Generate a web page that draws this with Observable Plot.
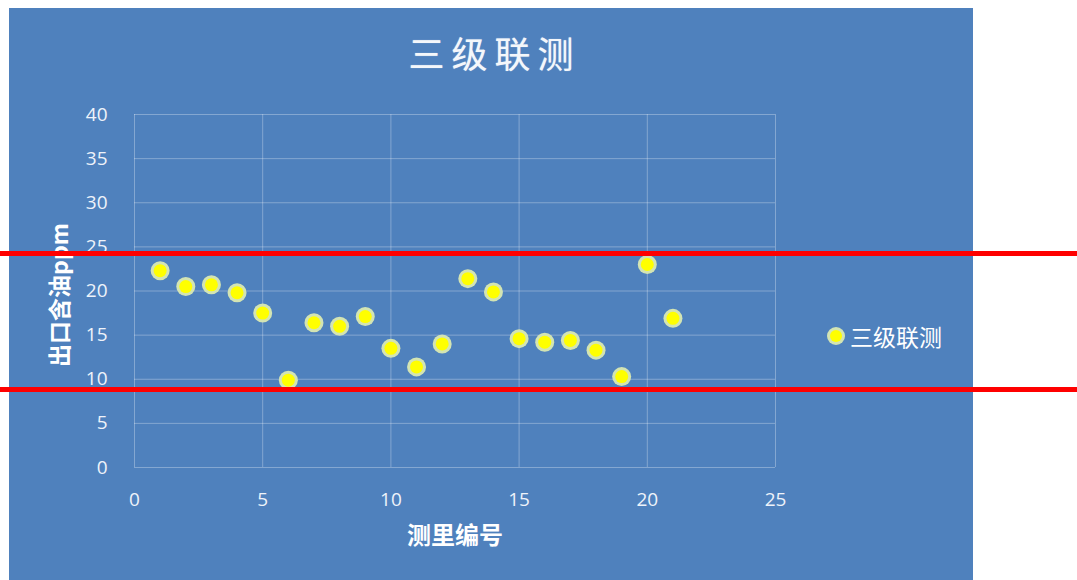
<!DOCTYPE html>
<html>
<head>
<meta charset="utf-8">
<script src="https://cdn.jsdelivr.net/npm/d3@7"></script>
<script src="https://cdn.jsdelivr.net/npm/@observablehq/plot@0.6"></script>
<style>
  html, body { margin: 0; padding: 0; background: #ffffff; }
  #stage { position: relative; width: 1077px; height: 580px; overflow: hidden; }
  #panel { position: absolute; left: 9px; top: 8px; width: 964px; height: 572px; background: #4f81bd; }
  #title {
    position: absolute; left: 9px; top: 28px; width: 964px; text-align: center;
    font-family: "Noto Sans CJK SC", sans-serif; font-size: 36px; line-height: 48px; color: #f4f7fb;
    letter-spacing: 7px; padding-left: 7px; box-sizing: border-box;
    text-shadow: 0 0 1px rgba(255,255,255,0.6);
  }
  #legend {
    position: absolute; left: 830px; top: 320px; height: 32px; display: flex; align-items: center;
    font-family: "Noto Sans CJK SC", sans-serif; font-size: 23px; color: #ffffff;
  }
  #legend .sw {
    width: 12px; height: 12px; border-radius: 50%; background: #ffff00;
    box-shadow: 0 0 0 3px #d3e4b3; margin-right: 8px;
  }
  #chart { position: absolute; left: 0; top: 0; }
</style>
</head>
<body>
<div id="stage">
  <div id="panel"></div>
  <div id="title">三级联测</div>
  <div id="legend"><span class="sw"></span><span>三级联测</span></div>
  <div id="chart"></div>
</div>
<script>
// Measurement point numbers and outlet oil content (ppm)
const pointIds = [1, 2, 3, 4, 5, 6, 7, 8, 9, 10, 11, 12, 13, 14, 15, 16, 17, 18, 19, 20, 21];
const oilPpm = [22.3, 20.5, 20.7, 19.8, 17.5, 9.9, 16.4, 16.0, 17.1, 13.5, 11.4, 14.0, 21.4, 19.9, 14.6, 14.2, 14.4, 13.3, 10.3, 23.0, 16.9];

// Control limits drawn as red horizontal lines
const limits = [24.25, 8.85];

// Axis ticks and labels
const xTicks = [0, 5, 10, 15, 20, 25];
const yTicks = [0, 5, 10, 15, 20, 25, 30, 35, 40];
const xLabel = "测里编号";
const yLabel = "出口含油ppm";

const rows = pointIds.map((id, i) => ({id, ppm: oilPpm[i]}));

const tickFont = "'Open Sans', 'Noto Sans', sans-serif";
const labelFont = "'Noto Sans CJK SC', sans-serif";

const chart = Plot.plot({
  width: 1077,
  height: 580,
  marginLeft: 134,
  marginRight: 302,
  marginTop: 114,
  marginBottom: 113,
  style: {background: "transparent", color: "#eef3fa", overflow: "visible"},
  x: {domain: [0, 25]},
  y: {domain: [0, 40]},
  marks: [
    Plot.gridX(xTicks, {stroke: "#ffffff", strokeOpacity: 0.3, strokeWidth: 1}),
    Plot.gridY(yTicks, {stroke: "#ffffff", strokeOpacity: 0.3, strokeWidth: 1}),
    Plot.axisX(xTicks, {tickSize: 0, tickPadding: 25, fontSize: 19, fontFamily: tickFont, label: null, fill: "#eef3fa"}),
    Plot.axisY(yTicks, {tickSize: 0, tickPadding: 27, fontSize: 19, fontFamily: tickFont, label: null, fill: "#eef3fa"}),
    Plot.text([xLabel], {frameAnchor: "bottom", dy: 76, fontSize: 24, fontWeight: "bold", fontFamily: labelFont, fill: "#ffffff"}),
    Plot.text([yLabel], {frameAnchor: "left", dx: -74, dy: 4, rotate: -90, textAnchor: "middle", fontSize: 23, fontWeight: "bold", fontFamily: labelFont, fill: "#ffffff"}),
    // marker halo, then the yellow core
    Plot.dot(rows, {x: "id", y: "ppm", r: 9.5, fill: "#d3e4b3", stroke: "none"}),
    Plot.dot(rows, {x: "id", y: "ppm", r: 6.5, fill: "#ffff00", stroke: "none"}),
    Plot.ruleY(limits, {stroke: "#ff0000", strokeWidth: 5, insetLeft: -134, insetRight: -302})
  ]
});

document.getElementById("chart").appendChild(chart);
</script>
</body>
</html>
